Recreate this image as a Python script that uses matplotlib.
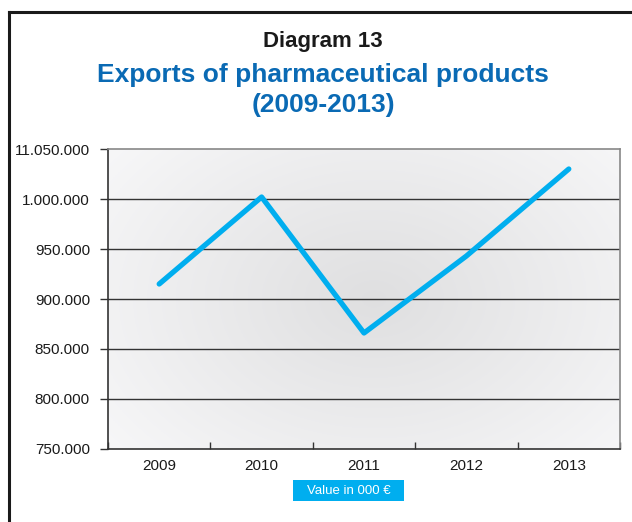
import numpy as np
import matplotlib
matplotlib.use("Agg")
import matplotlib.pyplot as plt
from matplotlib.lines import Line2D
from matplotlib.patches import Rectangle

plt.rcParams['font.family'] = ['Liberation Sans', 'DejaVu Sans']

years = ["2009", "2010", "2011", "2012", "2013"]
values = [915000, 1002000, 866000, 943000, 1030000]
ytick_values = [750000, 800000, 850000, 900000, 950000, 1000000, 1050000]
ytick_labels = ["750.000", "800.000", "850.000", "900.000", "950.000", "1.000.000", "11.050.000"]
title_1 = "Diagram 13"
title_2a = "Exports of pharmaceutical products"
title_2b = "(2009-2013)"
badge_text = "Value in 000 €"

W, H = 632, 522
fig = plt.figure(figsize=(W/100, H/100), dpi=100)
fig.patch.set_facecolor("white")

# outer frame (left and top)
fig.add_artist(Line2D([9/W, 9/W], [0, 1-12/H], transform=fig.transFigure, color="#1a1a1a", lw=2.2))
fig.add_artist(Line2D([9/W, 1], [1-12/H, 1-12/H], transform=fig.transFigure, color="#1a1a1a", lw=2.2))

fig.text(323/W, 1-47/H, title_1, ha="center", va="baseline", fontsize=16, fontweight="bold",
         color="#1a1a1a")
fig.text(323/W, 1-82/H, title_2a, ha="center", va="baseline", fontsize=19, fontweight="bold",
         color="#0a6ab4")
fig.text(323/W, 1-112/H, title_2b, ha="center", va="baseline", fontsize=19, fontweight="bold",
         color="#0a6ab4")

ax = fig.add_axes([108/W, 73/H, 512/W, 300/H])
ax.set_xlim(-0.5, len(years)-0.5)
ax.set_ylim(ytick_values[0], ytick_values[-1])

# radial gradient background
gx, gy = np.meshgrid(np.linspace(0, 1, 300), np.linspace(0, 1, 300))
r = np.sqrt(((gx-0.52)/0.75)**2 + ((gy-0.5)/0.9)**2)
shade = 0.875 + 0.105*np.clip(r, 0, 1)
ax.imshow(np.dstack([shade, shade, shade*1.005]).clip(0, 1), extent=[-0.5, len(years)-0.5, ytick_values[0], ytick_values[-1]],
          aspect="auto", zorder=0, origin="lower")

for v in ytick_values[1:-1]:
    ax.axhline(v, color="#333333", lw=1.0, zorder=1)

x = np.arange(len(years))
ax.plot(x, values, color="#00aeef", lw=3.8, solid_capstyle="round", solid_joinstyle="round", zorder=3)

ax.set_yticks(ytick_values)
ax.set_yticklabels(ytick_labels)
ax.set_xticks(x)
ax.set_xticklabels(years)
ax.set_xticks(np.arange(-0.5, len(years)), minor=True)
ax.tick_params(axis="x", which="major", length=0, pad=7, labelsize=11, colors="#1a1a1a")
ax.tick_params(axis="x", which="minor", length=5, width=1, color="#333333", direction="in")
ax.tick_params(axis="y", length=6, width=1, color="#333333", pad=7, labelsize=11, labelcolor="#1a1a1a")

for s in ["left", "bottom"]:
    ax.spines[s].set_color("#333333")
    ax.spines[s].set_linewidth(1.2)
for s in ["top", "right"]:
    ax.spines[s].set_color("#888888")
    ax.spines[s].set_linewidth(1.2)

# badge
fig.add_artist(Rectangle((293/W, 1-501/H), 111/W, 21/H, transform=fig.transFigure,
                         facecolor="#00aeef", edgecolor="none"))
fig.text(348.5/W, 1-490.5/H, badge_text, ha="center", va="center", fontsize=9.5, color="white")

fig.savefig("out.png", dpi=100)
